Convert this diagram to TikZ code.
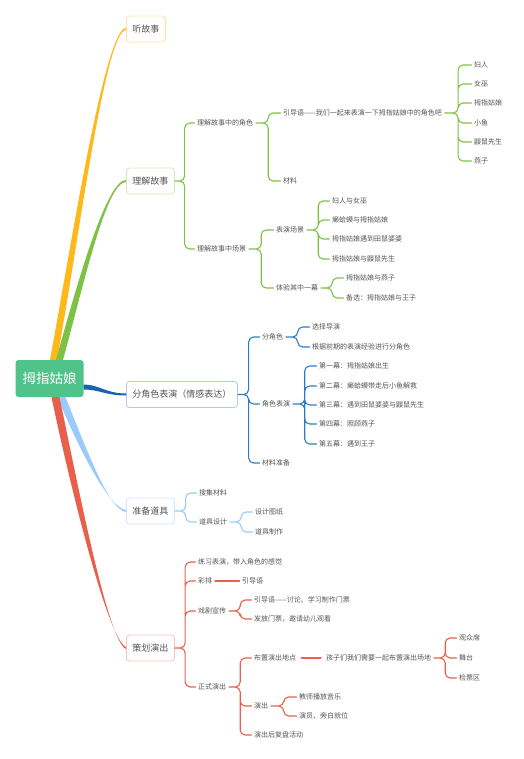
\documentclass[tikz,border=0pt]{standalone}
\usepackage{fontspec}
\setmainfont{Noto Sans CJK SC}
\usetikzlibrary{calc}
\definecolor{rootG}{HTML}{50C38A}
\definecolor{txt}{HTML}{555555}
\definecolor{orangeB}{HTML}{FFB81C}
\definecolor{orangeL}{HTML}{FFE3A3}
\definecolor{greenB}{HTML}{7EC245}
\definecolor{greenL}{HTML}{D2EABD}
\definecolor{blueB}{HTML}{1762B3}
\definecolor{blueC}{HTML}{2F7CC3}
\definecolor{blueL}{HTML}{AECBEA}
\definecolor{skyB}{HTML}{9ACBFB}
\definecolor{skyL}{HTML}{CFE5FD}
\definecolor{redB}{HTML}{E8604C}
\definecolor{redL}{HTML}{F6C4BC}
\tikzset{
  every picture/.style={line join=round, line cap=round},
  rootbox/.style={fill=rootG, text=white, rounded corners=3pt, minimum width=68pt, minimum height=37pt, font=\fontsize{13.5}{15}\selectfont},
  topic/.style={anchor=west, draw, fill=white, rounded corners=3pt, line width=0.8pt, minimum height=26pt, inner xsep=6pt, text=txt, font=\fontsize{9}{10}\selectfont},
  leaf/.style={anchor=west, xshift=-2.5pt, inner xsep=2.5pt, inner ysep=1pt, text=txt, font=\fontsize{7}{8}\selectfont},
  link/.style={line width=1.1pt, rounded corners=5pt, to path={(\tikztostart) -- ($(\tikztostart)!.5!(\tikztostart -| \tikztotarget)$) |- (\tikztotarget)}},
  single/.style={line width=1.1pt, shorten <=2.5pt, shorten >=2.5pt},
}
\newcommand\branch[6]{\fill[#1] ($(#2)+(#6)$) .. controls +(#4) and +(#5) .. ($(#3)+(0,1)$) -- ($(#3)-(0,1)$) .. controls +(#5) and +(#4) .. ($(#2)-(#6)$) -- cycle;}

\begin{document}
\begin{tikzpicture}[x=1pt,y=-1pt]
\useasboundingbox (0,0) rectangle (523,759);
\node[rootbox] (root) at (49.5,378.5) {拇指姑娘};
\node[topic,draw=orangeL] (tell) at (126,29) {听故事};
\node[topic,draw=greenL] (und) at (126,181) {理解故事};
\node[topic,draw=blueL] (play) at (126,394.5) {分角色表演（情感表达）};
\node[topic,draw=skyL] (props) at (126,511) {准备道具};
\node[topic,draw=redL] (plan) at (126,648) {策划演出};

\coordinate (oS) at ($(root.north)+(4,0)$);
\coordinate (gS) at ($(root.north)+(10,0)$);
\coordinate (bS) at ($(root.east)+(0,8.5)$);
\coordinate (sS) at ($(root.south)+(12,0)$);
\coordinate (rS) at ($(root.south)+(6,0)$);
\branch{orangeB}{oS}{tell.west}{22,-120}{-21,1}{3.5,0}
\branch{greenB}{gS}{und.west}{20,-72}{-20,0}{3.5,0}
\branch{blueB}{bS}{play.west}{15,0}{-20,0}{0,2.5}
\branch{skyB}{sS}{props.west}{18.5,45}{-18,-2}{4,0}
\branch{redB}{rS}{plan.west}{19.5,93}{-18,-8}{4,0}

\node[leaf] (role) at (197,123) {理解故事中的角色};
\node[leaf] (scn) at (197,249) {理解故事中场景};
\node[leaf] (guide) at (283,113) {引导语——我们一起来表演一下拇指姑娘中的角色吧};
\node[leaf] (mat) at (283,181) {材料};
\node[leaf] (ch1) at (474,65) {妇人};
\node[leaf] (ch2) at (474,84) {女巫};
\node[leaf] (ch3) at (474,103) {拇指姑娘};
\node[leaf] (ch4) at (474,123) {小鱼};
\node[leaf] (ch5) at (474,142) {鼹鼠先生};
\node[leaf] (ch6) at (474,161) {燕子};
\node[leaf] (act) at (276,230) {表演场景};
\node[leaf] (one) at (276,288) {体验其中一幕};
\node[leaf] (act1) at (332,201) {妇人与女巫};
\node[leaf] (act2) at (332,220) {癞蛤蟆与拇指姑娘};
\node[leaf] (act3) at (332,239) {拇指姑娘遇到田鼠婆婆};
\node[leaf] (act4) at (332,259) {拇指姑娘与鼹鼠先生};
\node[leaf] (one1) at (346,278) {拇指姑娘与燕子};
\node[leaf] (one2) at (346,298) {备选：拇指姑娘与王子};
\draw[link,greenB] (und.east) to (role.west) (und.east) to (scn.west)
(role.east) to (guide.west) (role.east) to (mat.west)
(guide.east) to (ch1.west) (guide.east) to (ch2.west) (guide.east) to (ch3.west)
(guide.east) to (ch4.west) (guide.east) to (ch5.west) (guide.east) to (ch6.west)
(scn.east) to (act.west) (scn.east) to (one.west)
(act.east) to (act1.west) (act.east) to (act2.west) (act.east) to (act3.west) (act.east) to (act4.west)
(one.east) to (one1.west) (one.east) to (one2.west);

\node[leaf] (cast) at (262,337) {分角色};
\node[leaf] (perf) at (262,404) {角色表演};
\node[leaf] (prep) at (262,463) {材料准备};
\node[leaf] (cast1) at (312,327) {选择导演};
\node[leaf] (cast2) at (312,347) {根据前期的表演经验进行分角色};
\node[leaf] (sc1) at (319,366) {第一幕：拇指姑娘出生};
\node[leaf] (sc2) at (319,386) {第二幕：癞蛤蟆带走后小鱼解救};
\node[leaf] (sc3) at (319,405) {第三幕：遇到田鼠婆婆与鼹鼠先生};
\node[leaf] (sc4) at (319,424) {第四幕：照顾燕子};
\node[leaf] (sc5) at (319,444) {第五幕：遇到王子};
\draw[link,blueC] (play.east) to (cast.west) (play.east) to (perf.west) (play.east) to (prep.west)
(cast.east) to (cast1.west) (cast.east) to (cast2.west)
(perf.east) to (sc1.west) (perf.east) to (sc2.west) (perf.east) to (sc3.west)
(perf.east) to (sc4.west) (perf.east) to (sc5.west);

\node[leaf] (gath) at (199,493) {搜集材料};
\node[leaf] (dsgn) at (199,522) {道具设计};
\node[leaf] (sheet) at (255,512) {设计图纸};
\node[leaf] (make) at (255,532) {道具制作};
\draw[link,skyB] (props.east) to (gath.west) (props.east) to (dsgn.west)
(dsgn.east) to (sheet.west) (dsgn.east) to (make.west);

\node[leaf] (prac) at (198,562) {练习表演，带入角色的感觉};
\node[leaf] (reh) at (198,581) {彩排};
\node[leaf] (reh1) at (242,581) {引导语};
\node[leaf] (promo) at (198,611) {戏剧宣传};
\node[leaf] (promo1) at (254,600) {引导语——讨论、学习制作门票};
\node[leaf] (promo2) at (254,619) {发放门票，邀请幼儿观看};
\node[leaf] (show) at (198,687) {正式演出};
\node[leaf] (site) at (254,658) {布置演出地点};
\node[leaf] (site1) at (326,658) {孩子们我们需要一起布置演出场地};
\node[leaf] (seat) at (459,638) {观众席};
\node[leaf] (stage) at (459,658) {舞台};
\node[leaf] (tick) at (459,678) {检票区};
\node[leaf] (act5) at (254,706) {演出};
\node[leaf] (music) at (299,697) {教师播放音乐};
\node[leaf] (ready) at (299,716) {演员、旁白就位};
\node[leaf] (review) at (254,735) {演出后复盘活动};
\draw[link,redB] (plan.east) to (prac.west) (plan.east) to (reh.west) (plan.east) to (promo.west) (plan.east) to (show.west)
(promo.east) to (promo1.west) (promo.east) to (promo2.west)
(show.east) to (site.west) (show.east) to (act5.west) (show.east) to (review.west)
(site1.east) to (seat.west) (site1.east) to (stage.west) (site1.east) to (tick.west)
(act5.east) to (music.west) (act5.east) to (ready.west);
\draw[single,redB] (reh.east) -- (reh1.west) (site.east) -- (site1.west);
\end{tikzpicture}
\end{document}
